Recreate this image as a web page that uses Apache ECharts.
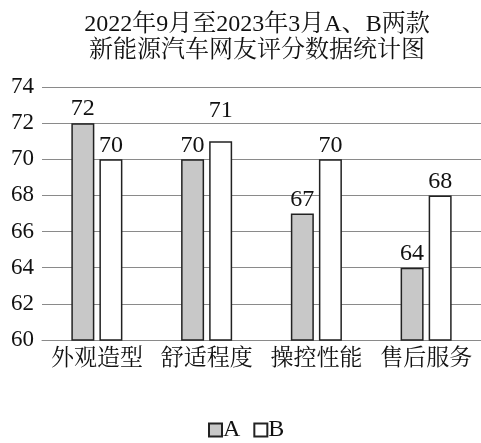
<!DOCTYPE html>
<html><head><meta charset="utf-8">
<script src="https://cdn.jsdelivr.net/npm/echarts@6/dist/echarts.min.js"></script>
<style>html,body{margin:0;padding:0;background:#fff}#c{width:481px;height:443px}</style>
</head><body><div id="c"></div>
<script>
const titleLines = ['2022年9月至2023年3月A、B两款', '新能源汽车网友评分数据统计图'];
const categories = ['外观造型', '舒适程度', '操控性能', '售后服务'];
const seriesA = [72, 70, 67, 64];
const seriesB = [70, 71, 70, 68];
const yMin = 60, yMax = 74, yStep = 2;

const FONT = "'Liberation Serif', 'Times New Roman', 'Noto Serif CJK SC', 'Noto Sans CJK SC', serif";
const chart = echarts.init(document.getElementById('c'), null, {renderer: 'canvas'});
const barBase = {
  type: 'bar', barWidth: 23, barGap: '22%',
  label: {show: true, position: 'top', distance: 2, color: '#111', fontSize: 24, fontFamily: FONT},
};
// label of B in the 2nd category sits higher in the reference
const dataB = seriesB.map((v, i) => i === 1 ? {value: v, label: {distance: 19}} : v);
chart.setOption({
  animation: false,
  backgroundColor: '#fff',
  title: {
    text: titleLines.join('\n'), left: 252, top: 7, textAlign: 'center',
    textStyle: {fontSize: 24, fontWeight: 'normal', color: '#111', fontFamily: FONT, lineHeight: 26}
  },
  legend: {
    bottom: -4, left: 203, itemWidth: 13, itemHeight: 13, itemGap: 13,
    icon: 'rect',
    textStyle: {fontSize: 24, color: '#111', fontFamily: FONT, padding: [0, 0, 0, -4]},
    data: ['A', 'B']
  },
  grid: {left: 42, top: 87, width: 443, bottom: 103, containLabel: false},
  xAxis: {
    type: 'category', data: categories,
    axisLine: {show: true, lineStyle: {color: '#8a8a8a', width: 1}},
    axisTick: {show: false},
    axisLabel: {interval: 0, fontSize: 23, color: '#111', fontFamily: FONT, margin: 7}
  },
  yAxis: {
    type: 'value', min: yMin, max: yMax, interval: yStep,
    axisLine: {show: false}, axisTick: {show: false},
    axisLabel: {fontSize: 23, color: '#111', fontFamily: FONT, margin: 8},
    splitLine: {show: true, lineStyle: {color: '#8a8a8a', width: 1}}
  },
  series: [
    Object.assign({}, barBase, {name: 'A', data: seriesA,
      itemStyle: {color: '#c8c8c8', borderColor: '#222', borderWidth: 1.5}}),
    Object.assign({}, barBase, {name: 'B', data: dataB,
      itemStyle: {color: '#ffffff', borderColor: '#222', borderWidth: 1.5}})
  ]
});
</script></body></html>
